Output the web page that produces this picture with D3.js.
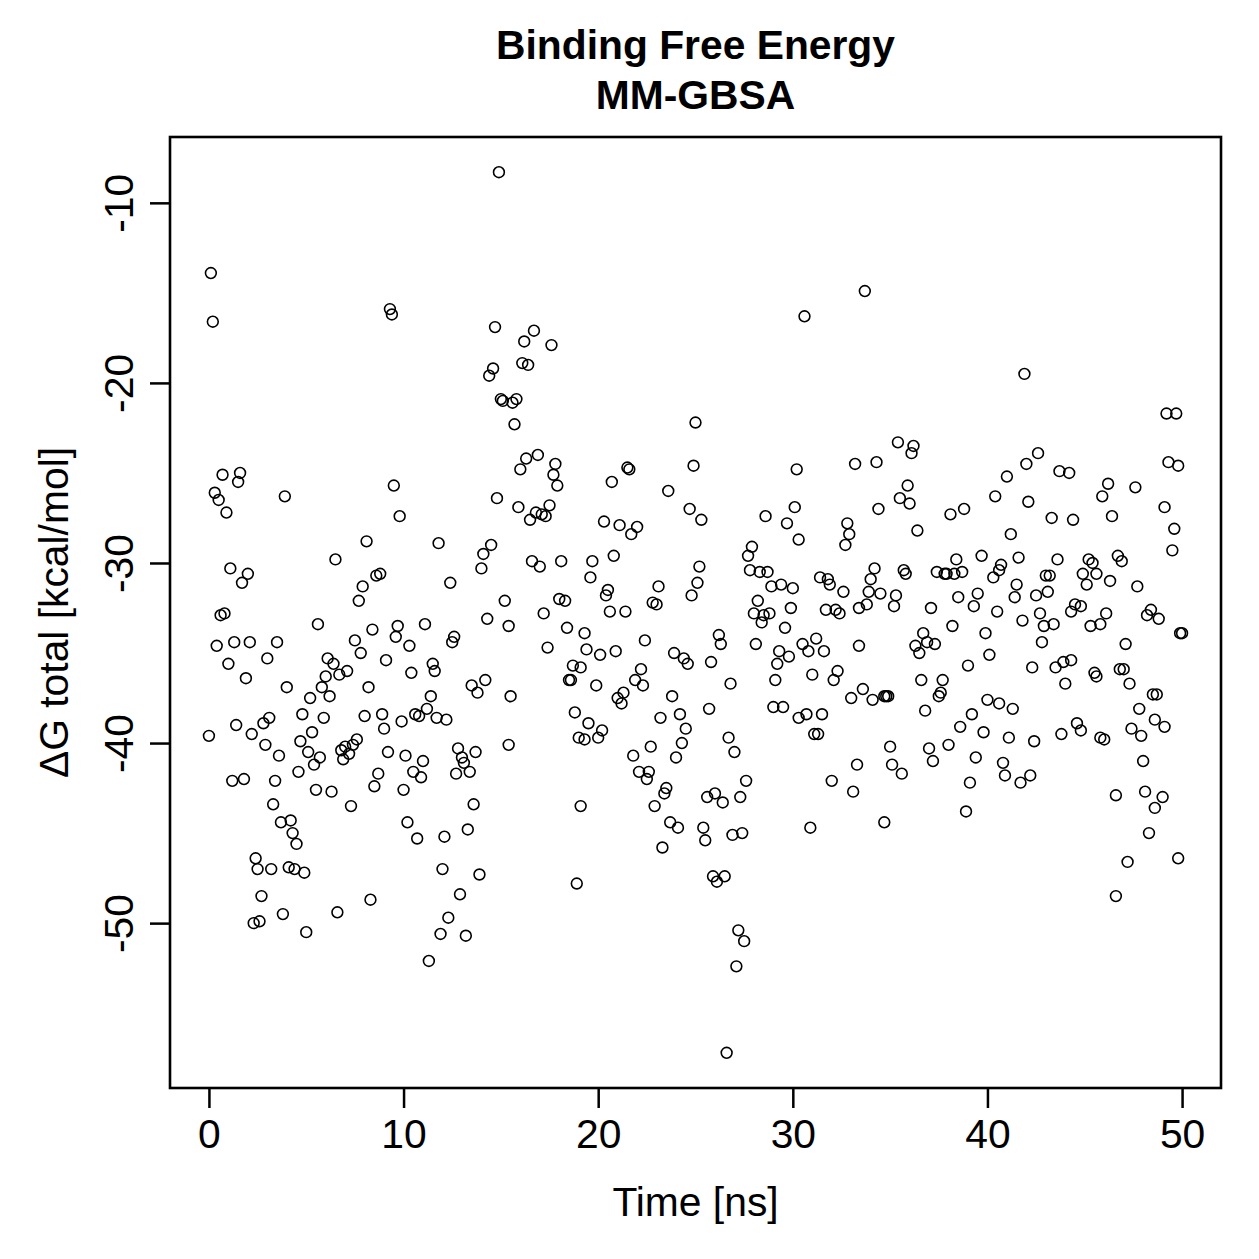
<!DOCTYPE html>
<html lang="en">
<head>
    <meta charset="UTF-8">
    <title>Binding Free Energy MM-GBSA</title>
    <style>
        html,
        body {
            margin: 0;
            height: 100%;
            overflow: hidden;
            background: #fff;
        }
        text {
            font-family: "Liberation Sans", Arial, Helvetica, sans-serif;
        }
    </style>
    <script src="https://d3js.org/d3.v7.min.js"></script>
</head>
<body>
    <svg id="svg"></svg>
    <script>
        // time [ns] and dG total [kcal/mol], in 10 ns blocks
        const time0to10 = [
            0.1, 0.2, 0.7, 1.6, 1.5, 0.3, 0.5, 0.9, 3.9, 9.3,
            9.4, 9.5, 9.8, 8.1, 6.5, 1.1, 2.0, 1.7, 8.6, 8.8,
            7.9, 7.7, 0.6, 0.8, 5.6, 8.4, 9.7, 9.6, 0.4, 1.3,
            2.1, 3.5, 7.5, 7.8, 3.0, 1.0, 6.1, 6.4, 9.1, 7.1,
            6.7, 6.0, 1.9, 5.8, 6.2, 8.2, 4.0, 5.2, 4.8, 5.9,
            8.0, 8.9, 3.1, 2.8, 1.4, 2.2, 0.0, 9.0, 5.3, 4.7,
            2.9, 5.1, 5.7, 5.4, 3.6, 6.8, 7.0, 7.2, 7.4, 7.6,
            6.9, 9.2, 4.6, 8.7, 8.5, 1.2, 1.8, 3.4, 5.5, 6.3,
            7.3, 3.3, 3.7, 4.2, 4.3, 4.5, 2.4, 2.5, 3.2, 4.1,
            4.4, 4.9, 2.7, 8.3, 6.6, 3.8, 2.3, 2.6, 5.0
        ];
        const dG0to10 = [
            -13.9, -16.6, -25.1, -25.0, -25.5, -26.1, -26.5, -27.2, -26.3, -15.9,
            -16.2, -25.7, -27.4, -28.8, -29.8, -30.3, -30.6, -31.1, -30.7, -30.6,
            -31.3, -32.1, -32.9, -32.8, -33.4, -33.7, -33.5, -34.1, -34.6, -34.4,
            -34.4, -34.4, -34.3, -35.0, -35.3, -35.6, -35.3, -35.6, -35.4, -36.0,
            -36.2, -36.3, -36.4, -36.9, -37.4, -36.9, -36.9, -37.5, -38.4, -38.6,
            -38.5, -38.4, -38.6, -38.9, -39.0, -39.5, -39.6, -39.2, -39.4, -39.9,
            -40.1, -40.5, -40.8, -41.2, -40.7, -40.4, -40.2, -40.6, -40.1, -39.8,
            -40.9, -40.5, -41.6, -41.7, -42.4, -42.1, -42.0, -42.1, -42.6, -42.7,
            -43.5, -43.4, -44.4, -44.3, -45.0, -45.6, -46.4, -47.0, -47.0, -46.9,
            -47.0, -47.2, -48.5, -48.7, -49.4, -49.5, -50.0, -49.9, -50.5
        ];

        const time10to20 = [
            14.9, 14.7, 16.7, 16.2, 17.6, 14.6, 14.4, 16.1, 16.4, 15.0,
            15.1, 15.6, 15.8, 15.7, 16.9, 16.3, 16.0, 17.8, 17.7, 17.9,
            14.8, 15.9, 17.5, 16.8, 17.1, 17.3, 16.5, 11.8, 14.5, 14.1,
            14.0, 12.4, 16.6, 17.0, 18.1, 19.7, 19.6, 15.2, 18.0, 18.3,
            14.3, 17.2, 11.1, 15.4, 18.4, 19.3, 10.3, 12.6, 12.5, 17.4,
            19.4, 11.5, 11.6, 10.4, 18.7, 19.1, 18.5, 18.6, 13.5, 13.8,
            14.2, 15.5, 11.4, 11.2, 10.6, 10.8, 11.7, 12.2, 9.9, 18.8,
            19.5, 19.0, 19.3, 15.4, 12.8, 13.7, 10.1, 11.0, 13.0, 13.1,
            13.4, 12.7, 10.5, 10.9, 10.0, 13.6, 19.1, 10.2, 13.3, 10.7,
            12.1, 12.0, 13.9, 18.9, 12.9, 12.3, 11.9, 13.2, 11.3
        ];
        const dG10to20 = [
            -8.3, -16.9, -17.1, -17.7, -17.9, -19.2, -19.6, -18.9, -19.0, -20.9,
            -21.0, -21.1, -20.9, -22.3, -24.0, -24.2, -24.8, -24.5, -25.1, -25.7,
            -26.4, -26.9, -26.8, -27.2, -27.3, -27.4, -27.6, -28.9, -29.0, -29.5,
            -30.3, -31.1, -29.9, -30.2, -29.9, -29.9, -30.8, -32.1, -32.0, -32.1,
            -33.1, -32.8, -33.4, -33.5, -33.6, -33.9, -34.6, -34.1, -34.4, -34.7,
            -34.8, -35.6, -36.0, -36.1, -35.7, -35.8, -36.5, -36.5, -36.8, -37.2,
            -36.5, -37.4, -37.4, -38.1, -38.4, -38.5, -38.6, -38.7, -38.8, -38.3,
            -38.9, -39.7, -39.8, -40.1, -40.3, -40.5, -40.7, -41.0, -40.8, -41.1,
            -41.6, -41.7, -41.6, -41.9, -42.6, -43.4, -43.5, -44.4, -44.8, -45.3,
            -45.2, -47.0, -47.3, -47.8, -48.4, -49.7, -50.6, -50.7, -52.1
        ];

        const time20to30 = [
            25.0, 24.9, 21.5, 21.6, 20.7, 23.6, 30.2, 24.7, 25.3, 28.6,
            29.7, 30.1, 20.3, 21.1, 22.0, 21.7, 30.3, 27.9, 27.7, 20.8,
            25.2, 27.8, 28.3, 28.7, 25.1, 24.8, 23.1, 20.5, 20.4, 22.8,
            23.0, 28.9, 29.4, 30.0, 28.2, 20.6, 21.4, 28.0, 28.5, 28.8,
            29.9, 28.4, 29.6, 22.4, 20.9, 20.1, 26.2, 26.3, 28.1, 29.3,
            29.8, 29.2, 23.9, 24.4, 24.6, 25.8, 22.2, 21.9, 22.3, 19.9,
            29.1, 26.8, 23.8, 21.0, 21.3, 21.2, 29.0, 29.5, 25.7, 30.3,
            23.2, 24.2, 24.5, 20.2, 20.0, 26.7, 27.0, 22.7, 24.3, 24.0,
            21.8, 22.1, 22.6, 22.5, 27.6, 23.5, 23.4, 25.6, 26.0, 26.4,
            27.3, 22.9, 23.7, 24.1, 25.4, 25.5, 26.9, 27.4, 23.3, 25.9,
            26.1, 26.5, 27.2, 27.5, 27.1, 26.6
        ];
        const dG20to30 = [
            -22.2, -24.6, -24.7, -24.8, -25.5, -26.0, -24.8, -27.0, -27.6, -27.4,
            -27.8, -26.9, -27.7, -27.9, -28.0, -28.4, -28.7, -29.1, -29.6, -29.6,
            -30.2, -30.4, -30.5, -30.5, -31.1, -31.8, -31.3, -31.5, -31.8, -32.2,
            -32.3, -31.3, -31.2, -31.4, -32.1, -32.7, -32.7, -32.8, -32.9, -32.8,
            -32.5, -33.3, -33.6, -34.3, -34.9, -35.1, -34.0, -34.5, -34.5, -34.9,
            -35.2, -35.6, -35.0, -35.3, -35.6, -35.5, -35.9, -36.5, -36.8, -36.8,
            -36.5, -36.7, -37.4, -37.5, -37.2, -37.8, -38.0, -38.0, -38.1, -38.6,
            -38.6, -38.4, -39.2, -39.3, -39.7, -39.7, -40.5, -40.2, -40.0, -40.8,
            -40.7, -41.6, -41.6, -42.0, -42.1, -42.5, -42.8, -43.0, -42.8, -43.3,
            -43.0, -43.5, -44.4, -44.7, -44.7, -45.4, -45.1, -45.0, -45.8, -47.4,
            -47.7, -47.4, -50.4, -51.0, -52.4, -57.2
        ];

        const time30to40 = [
            33.7, 30.6, 35.4, 36.2, 36.1, 33.2, 34.3, 35.9, 35.5, 36.0,
            34.4, 38.1, 38.8, 40.4, 32.8, 32.9, 32.7, 36.4, 38.4, 39.7,
            34.2, 34.0, 35.7, 35.8, 37.4, 37.8, 37.9, 38.3, 38.7, 40.3,
            31.4, 31.8, 31.9, 32.6, 33.9, 34.5, 35.3, 35.2, 38.5, 39.5,
            39.3, 31.7, 32.2, 32.4, 33.4, 33.8, 37.1, 40.5, 38.2, 39.9,
            40.1, 31.2, 30.5, 30.8, 31.6, 33.4, 36.7, 36.9, 36.3, 37.3,
            36.5, 39.0, 31.0, 32.3, 32.1, 36.6, 37.7, 37.6, 37.5, 33.6,
            33.0, 34.1, 34.7, 34.8, 34.9, 40.0, 36.8, 30.7, 31.5,
            39.2, 38.6, 39.8, 31.1, 31.3, 35.0, 37.0, 37.2, 38.0, 39.4,
            33.3, 35.1, 35.6, 32.0, 39.1, 33.1, 38.9, 34.7, 30.9
        ];
        const dG30to40 = [
            -14.9, -16.3, -23.3, -23.5, -23.9, -24.5, -24.4, -25.7, -26.4, -26.7,
            -27.0, -27.3, -27.0, -26.3, -27.8, -28.4, -29.0, -28.2, -29.8, -29.6,
            -30.3, -30.9, -30.4, -30.6, -30.5, -30.6, -30.6, -30.6, -30.5, -30.8,
            -30.8, -30.9, -31.2, -31.6, -31.6, -31.7, -31.8, -32.4, -31.9, -31.7,
            -32.4, -32.6, -32.6, -32.8, -32.5, -32.3, -32.5, -32.7, -33.5, -33.9,
            -35.1, -34.2, -34.5, -34.9, -34.9, -34.6, -33.9, -34.4, -34.6, -34.5,
            -35.0, -35.7, -36.2, -36.0, -36.5, -36.5, -36.5, -37.2, -37.4, -37.0,
            -37.5, -37.6, -37.4, -37.4, -37.4, -37.6, -38.2, -38.4, -38.4,
            -38.4, -39.1, -39.4, -39.5, -39.5, -40.2, -40.3, -41.0, -40.1, -40.8,
            -41.2, -41.2, -41.7, -42.1, -42.2, -42.7, -43.8, -44.4, -44.7
        ];

        const time40to50 = [
            41.9, 49.2, 49.7, 42.6, 42.0, 49.3, 49.8, 41.0, 43.7, 44.2,
            46.2, 45.9, 47.6, 42.1, 49.1, 43.3, 44.4, 46.4, 49.6, 41.2,
            49.5, 41.6, 43.6, 40.7, 40.6, 45.2, 45.4, 46.7, 46.9, 43.0,
            43.2, 44.9, 45.6, 45.1, 46.3, 47.7, 41.5, 41.4, 42.5, 43.1,
            44.5, 44.8, 44.3, 48.4, 42.7, 46.1, 48.2, 48.8, 41.8, 42.9,
            43.4, 45.3, 45.8, 49.9, 50.0, 42.8, 47.1, 42.3, 43.5, 43.9,
            44.3, 44.0, 45.5, 45.6, 46.8, 47.0, 47.3, 48.5, 48.7, 40.6,
            41.3, 47.8, 48.6, 49.1, 44.6, 44.8, 43.8, 41.1, 42.4, 45.8,
            46.0, 47.4, 47.9, 48.0, 40.8, 40.9, 41.7, 42.2, 46.6, 48.1,
            49.0, 48.6, 48.3, 47.2, 49.8, 46.6
        ];
        const dG40to50 = [
            -19.5, -21.7, -21.7, -23.9, -24.5, -24.4, -24.6, -25.2, -24.9, -25.0,
            -25.6, -26.3, -25.8, -26.6, -26.9, -27.5, -27.6, -27.4, -28.1, -28.4,
            -29.3, -29.7, -29.8, -30.1, -30.4, -29.8, -30.0, -29.6, -29.9, -30.7,
            -30.7, -30.6, -30.6, -31.2, -31.0, -31.3, -31.2, -31.9, -31.8, -31.6,
            -32.3, -32.4, -32.7, -32.6, -32.8, -32.8, -32.9, -33.1, -33.2, -33.5,
            -33.4, -33.5, -33.4, -33.9, -33.9, -34.4, -34.5, -35.8, -35.8, -35.5,
            -35.4, -36.7, -36.1, -36.3, -35.9, -35.9, -36.7, -37.3, -37.3, -37.8,
            -38.1, -38.1, -38.7, -39.1, -38.9, -39.3, -39.5, -39.7, -39.9, -39.7,
            -39.8, -39.2, -39.6, -41.0, -41.1, -41.8, -42.2, -41.8, -42.9, -42.7,
            -43.0, -43.6, -45.0, -46.6, -46.4, -48.5
        ];

        const xTicks = [0, 10, 20, 30, 40, 50];
        const yTicks = [-10, -20, -30, -40, -50];

        const timeNs = [].concat(time0to10, time10to20, time20to30, time30to40, time40to50);
        const dGTotal = [].concat(dG0to10, dG10to20, dG20to30, dG30to40, dG40to50);
        const points = timeNs.map((t, i) => ({ t: t, g: dGTotal[i] }));

        const width = 1259;
        const height = 1259;
        const svg = d3.select('#svg').attr('width', width).attr('height', height);
        const margin = { top: 137, left: 170, bottom: 171, right: 38 };
        const innerWidth = width - margin.left - margin.right;
        const innerHeight = height - margin.top - margin.bottom;
        const fontSize = 40.8;

        // R pads the data range by 4% on each side
        const rRange = ext => {
            const pad = (ext[1] - ext[0]) * 0.04;
            return [ext[0] - pad, ext[1] + pad];
        };

        const xScale = d3.scaleLinear()
            .domain(rRange(d3.extent(timeNs)))
            .range([0, innerWidth]);
        const yScale = d3.scaleLinear()
            .domain(rRange(d3.extent(dGTotal)))
            .range([innerHeight, 0]);

        const g = svg.append('g').attr('transform', `translate(${margin.left},${margin.top})`);

        // x axis
        const xAxis = d3.axisBottom(xScale)
            .tickValues(xTicks)
            .tickSize(20)
            .tickFormat(d => String(d));
        const xg = g.append('g')
            .attr('transform', `translate(0,${innerHeight})`)
            .call(xAxis)
            .attr('font-size', null)
            .attr('font-family', null);
        xg.select('.domain').remove();
        xg.selectAll('.tick line').attr('stroke', '#000').attr('stroke-width', 2.5);
        xg.selectAll('.tick text')
            .attr('y', 60)
            .attr('dy', null)
            .attr('fill', '#000')
            .style('font-size', fontSize + 'px');

        // y axis, labels parallel to the axis as in R
        const yAxis = d3.axisLeft(yScale)
            .tickValues(yTicks)
            .tickSize(20)
            .tickFormat(d => String(d));
        const yg = g.append('g')
            .call(yAxis)
            .attr('font-size', null)
            .attr('font-family', null);
        yg.select('.domain').remove();
        yg.selectAll('.tick line').attr('stroke', '#000').attr('stroke-width', 2.5);
        yg.selectAll('.tick text')
            .attr('x', null)
            .attr('dy', null)
            .attr('text-anchor', 'middle')
            .attr('transform', 'translate(-37,0) rotate(-90)')
            .attr('fill', '#000')
            .style('font-size', fontSize + 'px');

        // points
        g.selectAll('.pt').data(points).join('circle').attr('class', 'pt')
            .attr('cx', d => xScale(d.t))
            .attr('cy', d => yScale(d.g))
            .attr('r', 5.4)
            .attr('fill', 'none')
            .attr('stroke', '#000')
            .attr('stroke-width', 1.6);

        // plot box
        g.append('rect')
            .attr('width', innerWidth)
            .attr('height', innerHeight)
            .attr('fill', 'none')
            .attr('stroke', '#000')
            .attr('stroke-width', 2.6);

        // titles and axis labels
        const cx = margin.left + innerWidth / 2;
        const cy = margin.top + innerHeight / 2;
        svg.append('text')
            .attr('x', cx).attr('y', 59)
            .attr('text-anchor', 'middle')
            .style('font-size', fontSize + 'px')
            .style('font-weight', 'bold')
            .text('Binding Free Energy');
        svg.append('text')
            .attr('x', cx).attr('y', 109)
            .attr('text-anchor', 'middle')
            .style('font-size', fontSize + 'px')
            .style('font-weight', 'bold')
            .text('MM-GBSA');
        svg.append('text')
            .attr('x', cx).attr('y', 1216)
            .attr('text-anchor', 'middle')
            .style('font-size', fontSize + 'px')
            .text('Time [ns]');
        svg.append('text')
            .attr('transform', `translate(68,${cy}) rotate(-90)`)
            .attr('text-anchor', 'middle')
            .style('font-size', fontSize + 'px')
            .text('ΔG total [kcal/mol]');
    </script>
</body>
</html>
